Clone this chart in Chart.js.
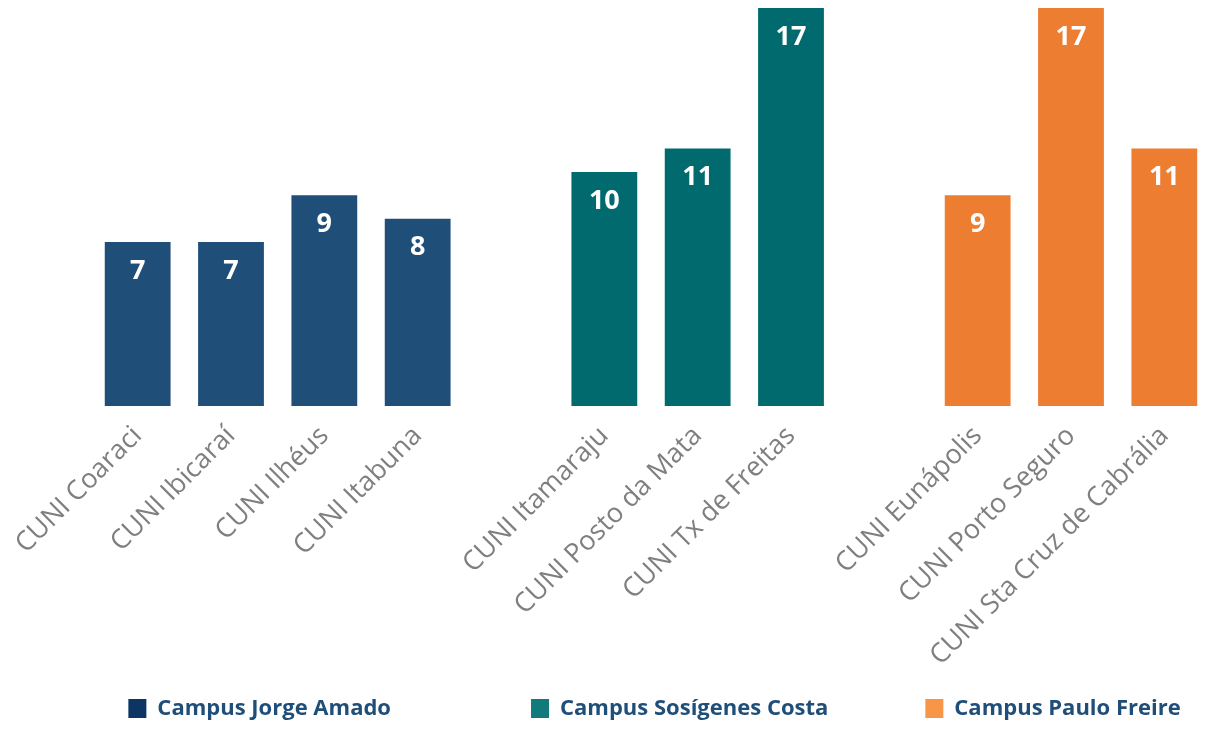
<!DOCTYPE html>
<html>
<head>
<meta charset="utf-8">
<script src="https://cdn.jsdelivr.net/npm/chart.js@4.4.1/dist/chart.umd.min.js"></script>
<style>
  html, body { margin: 0; padding: 0; background: #ffffff; }
  #wrap { width: 1211px; height: 729px; position: relative; }
</style>
</head>
<body>
<div id="wrap"><canvas id="chart"></canvas></div>
<script>
// categories (blank slots separate the campuses)
const categories = [
  'CUNI Coaraci', 'CUNI Ibicaraí', 'CUNI Ilhéus', 'CUNI Itabuna', '',
  'CUNI Itamaraju', 'CUNI Posto da Mata', 'CUNI Tx de Freitas', '',
  'CUNI Eunápolis', 'CUNI Porto Seguro', 'CUNI Sta Cruz de Cabrália'
];

// series values, one per campus
const jorgeAmado = [7, 7, 9, 8, null, null, null, null, null, null, null, null];
const sosigenesCosta = [null, null, null, null, null, 10, 11, 17, null, null, null, null];
const pauloFreire = [null, null, null, null, null, null, null, null, null, 9, 17, 11];

const seriesNames = ['Campus Jorge Amado', 'Campus Sosígenes Costa', 'Campus Paulo Freire'];
const barColors = ['#1f4e79', '#006a6e', '#ed7d31'];
const legendColors = ['#0d3563', '#137a7c', '#f79646'];

// white numbers inside the top of each bar
const valueLabels = {
  id: 'valueLabels',
  afterDatasetsDraw(chart) {
    const ctx = chart.ctx;
    ctx.save();
    ctx.fillStyle = '#ffffff';
    ctx.font = 'bold 27px "Open Sans"';
    ctx.textAlign = 'center';
    ctx.textBaseline = 'middle';
    chart.data.datasets.forEach((ds, i) => {
      chart.getDatasetMeta(i).data.forEach((bar, j) => {
        if (ds.data[j] == null) return;
        ctx.fillText(ds.data[j], bar.x, bar.y + 29);
      });
    });
    ctx.restore();
  }
};

// legend items centred under each campus group
const groupLegend = {
  id: 'groupLegend',
  afterDraw(chart) {
    const ctx = chart.ctx;
    const x = chart.scales.x;
    ctx.save();
    ctx.font = 'bold 22px "Open Sans"';
    ctx.textBaseline = 'middle';
    chart.data.datasets.forEach((ds, i) => {
      const idx = ds.data.map((v, j) => v == null ? -1 : j).filter(j => j >= 0);
      const mid = (x.getPixelForValue(idx[0]) + x.getPixelForValue(idx[idx.length - 1])) / 2 - 18;
      const tw = ctx.measureText(seriesNames[i]).width;
      const w = 18 + 11 + tw;
      const left = mid - w / 2;
      const cy = chart.height - 20;
      ctx.fillStyle = legendColors[i];
      ctx.fillRect(left, cy - 10, 18, 19);
      ctx.fillStyle = '#1f4e79';
      ctx.fillText(seriesNames[i], left + 29, cy);
    });
    ctx.restore();
  }
};

new Chart(document.getElementById('chart'), {
  type: 'bar',
  data: {
    labels: categories,
    datasets: [
      { label: seriesNames[0], data: jorgeAmado, backgroundColor: barColors[0] },
      { label: seriesNames[1], data: sosigenesCosta, backgroundColor: barColors[1] },
      { label: seriesNames[2], data: pauloFreire, backgroundColor: barColors[2] }
    ]
  },
  options: {
    responsive: true,
    maintainAspectRatio: false,
    animation: false,
    datasets: {
      bar: { grouped: false, barPercentage: 0.705, categoryPercentage: 1 }
    },
    layout: { padding: { left: 91, right: 0, top: 8, bottom: 50 } },
    plugins: {
      legend: { display: false },
      tooltip: { enabled: false }
    },
    scales: {
      x: {
        grid: { display: false, drawTicks: false },
        border: { display: false },
        ticks: {
          autoSkip: false,
          minRotation: 45,
          maxRotation: 45,
          padding: 14,
          color: '#7f7f7f',
          font: { family: 'Open Sans', size: 27 }
        },
        afterFit(scale) { scale.height = 273; }
      },
      y: {
        display: false,
        min: 0,
        max: 17
      }
    }
  },
  plugins: [valueLabels, groupLegend]
});
</script>
</body>
</html>
